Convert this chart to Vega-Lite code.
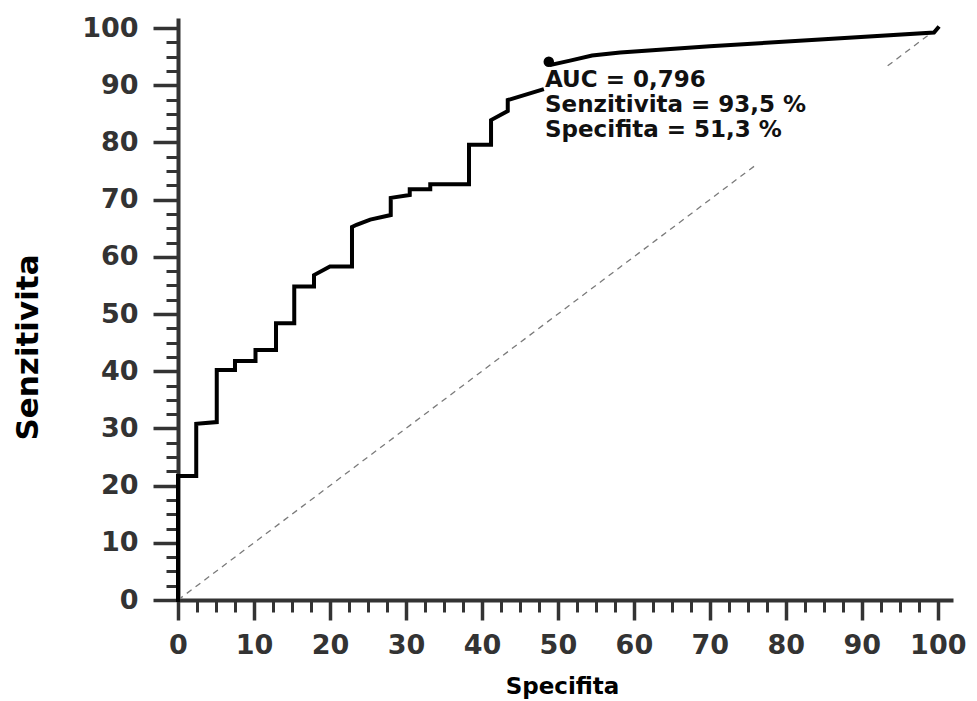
{
  "$schema": "https://vega.github.io/schema/vega-lite/v6.json",
  "width": 775,
  "height": 582,
  "autosize": "none",
  "padding": {"left": 178, "top": 18, "right": 24, "bottom": 101},
  "background": "white",
  "config": {
    "view": {"stroke": null},
    "axis": {"grid": false, "labelFont": "DejaVu Sans", "titleFont": "DejaVu Sans"}
  },
  "datasets": {
    "curve": [
      {"seg": "a", "o": 1, "fpr": 0, "tpr": 0},
      {"seg": "a", "o": 2, "fpr": 0, "tpr": 21.7},
      {"seg": "a", "o": 3, "fpr": 2.4, "tpr": 21.7},
      {"seg": "a", "o": 4, "fpr": 2.4, "tpr": 30.8},
      {"seg": "a", "o": 5, "fpr": 5.1, "tpr": 31.1},
      {"seg": "a", "o": 6, "fpr": 5.1, "tpr": 40.2},
      {"seg": "a", "o": 7, "fpr": 7.5, "tpr": 40.2},
      {"seg": "a", "o": 8, "fpr": 7.5, "tpr": 41.8},
      {"seg": "a", "o": 9, "fpr": 10.2, "tpr": 41.8},
      {"seg": "a", "o": 10, "fpr": 10.2, "tpr": 43.7},
      {"seg": "a", "o": 11, "fpr": 12.9, "tpr": 43.7},
      {"seg": "a", "o": 12, "fpr": 12.9, "tpr": 48.4},
      {"seg": "a", "o": 13, "fpr": 15.3, "tpr": 48.4},
      {"seg": "a", "o": 14, "fpr": 15.3, "tpr": 54.8},
      {"seg": "a", "o": 15, "fpr": 17.9, "tpr": 54.8},
      {"seg": "a", "o": 16, "fpr": 17.9, "tpr": 56.8},
      {"seg": "a", "o": 17, "fpr": 20.0, "tpr": 58.3},
      {"seg": "a", "o": 18, "fpr": 22.9, "tpr": 58.3},
      {"seg": "a", "o": 19, "fpr": 22.9, "tpr": 65.2},
      {"seg": "a", "o": 20, "fpr": 23.5, "tpr": 65.6},
      {"seg": "a", "o": 21, "fpr": 25.3, "tpr": 66.5},
      {"seg": "a", "o": 22, "fpr": 28.0, "tpr": 67.3},
      {"seg": "a", "o": 23, "fpr": 28.0, "tpr": 70.3},
      {"seg": "a", "o": 24, "fpr": 30.5, "tpr": 70.8},
      {"seg": "a", "o": 25, "fpr": 30.5, "tpr": 71.8},
      {"seg": "a", "o": 26, "fpr": 33.2, "tpr": 71.8},
      {"seg": "a", "o": 27, "fpr": 33.2, "tpr": 72.7},
      {"seg": "a", "o": 28, "fpr": 38.3, "tpr": 72.7},
      {"seg": "a", "o": 29, "fpr": 38.3, "tpr": 79.6},
      {"seg": "a", "o": 30, "fpr": 41.2, "tpr": 79.6},
      {"seg": "a", "o": 31, "fpr": 41.2, "tpr": 83.9},
      {"seg": "a", "o": 32, "fpr": 43.4, "tpr": 85.5},
      {"seg": "a", "o": 33, "fpr": 43.4, "tpr": 87.4},
      {"seg": "a", "o": 34, "fpr": 47.9, "tpr": 89.2},
      {"seg": "b", "o": 35, "fpr": 49.2, "tpr": 93.6},
      {"seg": "b", "o": 36, "fpr": 51.6, "tpr": 94.3},
      {"seg": "b", "o": 37, "fpr": 54.5, "tpr": 95.2},
      {"seg": "b", "o": 38, "fpr": 58.2, "tpr": 95.7},
      {"seg": "b", "o": 39, "fpr": 70.0, "tpr": 96.8},
      {"seg": "b", "o": 40, "fpr": 84.5, "tpr": 98.0},
      {"seg": "b", "o": 41, "fpr": 99.5, "tpr": 99.2},
      {"seg": "b", "o": 42, "fpr": 100, "tpr": 100}
    ],
    "diag": [
      {"seg": "a", "x": 0, "y": 0},
      {"seg": "a", "x": 75.9, "y": 75.9},
      {"seg": "b", "x": 93.4, "y": 93.4},
      {"seg": "b", "x": 100, "y": 100}
    ],
    "cut": [{"x": 48.8, "y": 94.1}],
    "ann": [
      {"label": "AUC = 0,796", "x": 48.3, "y": 89.7},
      {"label": "Senzitivita = 93,5 %", "x": 48.3, "y": 85.3},
      {"label": "Specifita = 51,3 %", "x": 48.3, "y": 81.0}
    ]
  },
  "resolve": {"axis": {"x": "independent", "y": "independent"}},
  "layer": [
    {
      "data": {"name": "diag"},
      "mark": {"type": "line", "color": "#7a7a7a", "strokeWidth": 1.3, "strokeDash": [6, 5]},
      "encoding": {
        "x": {
          "field": "x", "type": "quantitative",
          "scale": {"domain": [0, 102], "nice": false, "zero": false},
          "axis": {
            "orient": "bottom",
            "values": [0, 10, 20, 30, 40, 50, 60, 70, 80, 90, 100],
            "domainColor": "#333333", "domainWidth": 4,
            "tickColor": "#333333", "tickWidth": 3.5, "tickSize": 20,
            "labelFontSize": 27, "labelFontWeight": "bold", "labelColor": "#333333",
            "labelPadding": 12, "labelOverlap": false, "labelFlush": false,
            "title": "Specifita", "titleFontSize": 23, "titleFontWeight": "bold", "titleColor": "#000000",
            "titleX": 384, "titleY": 86, "titleAlign": "center", "titleBaseline": "middle", "titleAnchor": null
          }
        },
        "y": {
          "field": "y", "type": "quantitative",
          "scale": {"domain": [0, 101.75], "nice": false, "zero": false},
          "axis": {
            "orient": "left",
            "values": [0, 10, 20, 30, 40, 50, 60, 70, 80, 90, 100],
            "domainColor": "#333333", "domainWidth": 4,
            "tickColor": "#333333", "tickWidth": 3.5, "tickSize": 25,
            "labelFontSize": 27, "labelFontWeight": "bold", "labelColor": "#333333",
            "labelPadding": 15, "labelOverlap": false, "labelFlush": false,
            "title": "Senzitivita", "titleFontSize": 31, "titleFontWeight": "bold", "titleColor": "#000000",
            "titleAngle": -90, "titleX": -150, "titleY": 329, "titleAlign": "center", "titleBaseline": "middle", "titleAnchor": null
          }
        },
        "detail": {"field": "seg"}
      }
    },
    {
      "data": {"name": "curve"},
      "mark": {"type": "line", "color": "#000000", "strokeWidth": 4, "strokeJoin": "miter", "strokeCap": "square"},
      "encoding": {
        "x": {
          "field": "fpr", "type": "quantitative",
          "axis": {
            "orient": "bottom",
            "values": [2.5, 5, 7.5, 12.5, 15, 17.5, 22.5, 25, 27.5, 32.5, 35, 37.5, 42.5, 45, 47.5, 52.5, 55, 57.5, 62.5, 65, 67.5, 72.5, 75, 77.5, 82.5, 85, 87.5, 92.5, 95, 97.5],
            "domain": false, "labels": false, "title": null,
            "tickColor": "#333333", "tickWidth": 3, "tickSize": 12
          }
        },
        "y": {
          "field": "tpr", "type": "quantitative",
          "axis": {
            "orient": "left",
            "values": [2.5, 5, 7.5, 12.5, 15, 17.5, 22.5, 25, 27.5, 32.5, 35, 37.5, 42.5, 45, 47.5, 52.5, 55, 57.5, 62.5, 65, 67.5, 72.5, 75, 77.5, 82.5, 85, 87.5, 92.5, 95, 97.5],
            "domain": false, "labels": false, "title": null,
            "tickColor": "#333333", "tickWidth": 3, "tickSize": 12
          }
        },
        "detail": {"field": "seg"},
        "order": {"field": "o", "type": "quantitative"}
      }
    },
    {
      "data": {"name": "cut"},
      "mark": {"type": "point", "shape": "circle", "filled": true, "color": "#000000", "size": 110, "opacity": 1},
      "encoding": {
        "x": {"field": "x", "type": "quantitative", "axis": null},
        "y": {"field": "y", "type": "quantitative", "axis": null}
      }
    },
    {
      "data": {"name": "ann"},
      "mark": {"type": "text", "align": "left", "baseline": "alphabetic", "font": "DejaVu Sans", "fontWeight": "bold", "fontSize": 23, "color": "#111111"},
      "encoding": {
        "x": {"field": "x", "type": "quantitative", "axis": null},
        "y": {"field": "y", "type": "quantitative", "axis": null},
        "text": {"field": "label"}
      }
    }
  ]
}
